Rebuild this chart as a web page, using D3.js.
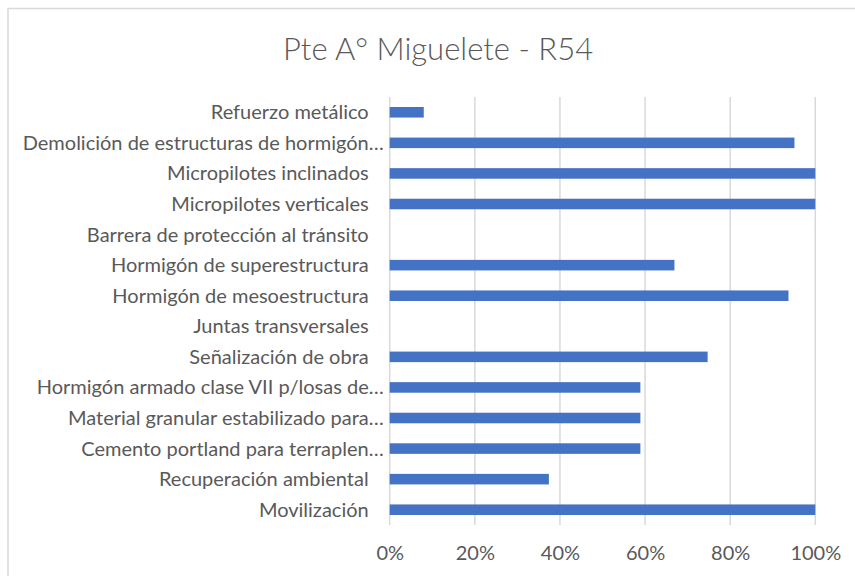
<!DOCTYPE html>
<html>
<head>
<meta charset="utf-8">
<script src="https://cdn.jsdelivr.net/npm/d3@7"></script>
<style>
  html, body { margin: 0; padding: 0; background: #ffffff; }
  svg { display: block; }
  text { font-family: Lato, "Open Sans", "DejaVu Sans", sans-serif; fill: #595959; }
</style>
</head>
<body>
<script>
// Progress per work item (fraction of completion), listed top to bottom
const chartTitle = "Pte A° Miguelete - R54";
const categories = [
  "Refuerzo metálico",
  "Demolición de estructuras de hormigón…",
  "Micropilotes inclinados",
  "Micropilotes verticales",
  "Barrera de protección al tránsito",
  "Hormigón de superestructura",
  "Hormigón de mesoestructura",
  "Juntas transversales",
  "Señalización de obra",
  "Hormigón armado clase VII p/losas de…",
  "Material granular estabilizado para…",
  "Cemento portland para terraplen…",
  "Recuperación ambiental",
  "Movilización"
];
const progress = [0.08, 0.951, 1.0, 1.0, 0, 0.669, 0.937, 0, 0.747, 0.589, 0.589, 0.589, 0.374, 1.0];
const tickValues = [0, 0.2, 0.4, 0.6, 0.8, 1.0];

const W = 855, H = 576;
const plot = { left: 389.7, right: 815.3, top: 97, bottom: 525 };

const svg = d3.select("body").append("svg")
  .attr("width", W).attr("height", H);

// chart frame (top and left edges visible inside the viewport)
svg.append("path")
  .attr("d", `M8,${H + 2} L8,8.5 L${W + 2},8.5`)
  .attr("fill", "none")
  .attr("stroke", "#d9d9d9")
  .attr("stroke-width", 1.5);

svg.append("text")
  .attr("x", 438).attr("y", 59.5)
  .attr("text-anchor", "middle")
  .style("font-size", "31px")
  .style("font-weight", 300)
  .text(chartTitle);

const x = d3.scaleLinear().domain([0, 1]).range([plot.left, plot.right]);
const y = d3.scaleBand().domain(categories).range([plot.top, plot.bottom])
  .paddingInner(0.655).paddingOuter(0.3275);

// vertical gridlines
svg.append("g").selectAll("line").data(tickValues).join("line")
  .attr("x1", d => x(d)).attr("x2", d => x(d))
  .attr("y1", plot.top).attr("y2", plot.bottom)
  .attr("stroke", "#d9d9d9").attr("stroke-width", 1.5);

// bars
svg.append("g").selectAll("rect").data(categories).join("rect")
  .attr("x", x(0))
  .attr("y", d => y(d))
  .attr("width", (d, i) => x(progress[i]) - x(0))
  .attr("height", y.bandwidth())
  .attr("fill", "#4472c4");

// x axis tick labels
const xAxis = d3.axisBottom(x).tickValues(tickValues)
  .tickFormat(d3.format(".0%")).tickSize(0).tickPadding(0);
const gx = svg.append("g").attr("transform", `translate(0,${plot.bottom})`).call(xAxis);
gx.select(".domain").remove();
gx.selectAll("text")
  .attr("y", 35).attr("dy", 0)
  .style("font-size", "20px").attr("fill", "#595959")
  .style("font-family", "Lato, 'Open Sans', sans-serif");

// category labels
const yAxis = d3.axisLeft(y).tickSize(0).tickPadding(0);
const gy = svg.append("g").attr("transform", `translate(${plot.left},0)`).call(yAxis);
gy.select(".domain").remove();
gy.selectAll("text")
  .attr("x", d => d.endsWith("…") ? -6 : -21)
  .attr("dy", "0.35em")
  .style("font-size", "20px").attr("fill", "#595959")
  .style("font-family", "Lato, 'Open Sans', sans-serif");
</script>
</body>
</html>
